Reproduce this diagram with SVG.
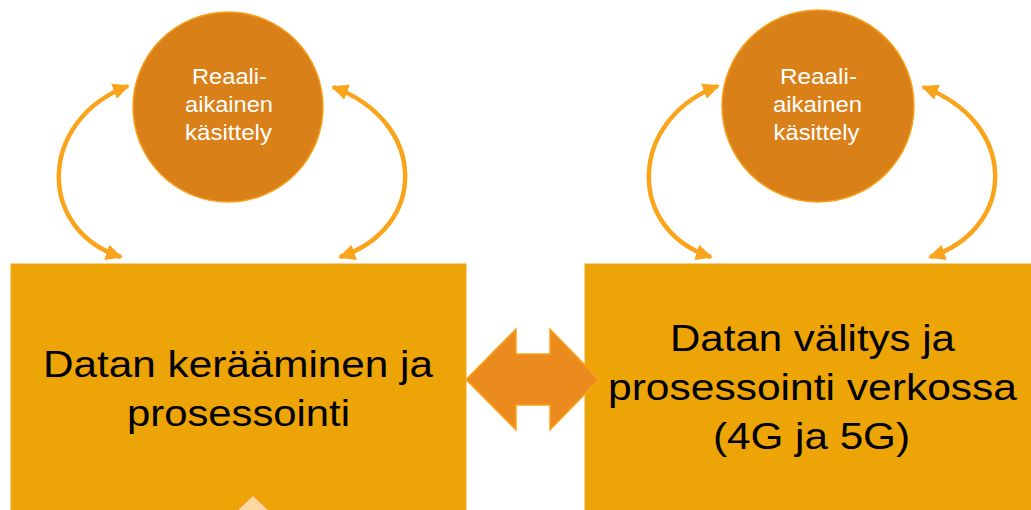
<svg xmlns="http://www.w3.org/2000/svg" width="1031" height="510" viewBox="0 0 1031 510">
  <style>
    .box { fill: #EDA406; stroke: #F2A518; stroke-width: 1; }
    .bubble { fill: #DA8019; stroke: #F7A21E; stroke-width: 1.5; }
    .big { font-family: "Liberation Sans", Arial, sans-serif; font-size: 37px; fill: #000; text-anchor: middle; }
    .small { font-family: "Liberation Sans", Arial, sans-serif; font-size: 22px; fill: #fff; text-anchor: middle; }
    .loop { fill: none; stroke: #F9A41B; stroke-width: 4.5; marker-start: url(#head); marker-end: url(#head); }
    .swap { fill: #EC8B1D; stroke: #F7A51E; stroke-width: 1.5; stroke-linejoin: miter; }
    .peak { fill: #FDD9A2; stroke: #F79A1F; stroke-width: 1.5; }
  </style>
  <defs>
    <marker id="head" markerUnits="userSpaceOnUse" markerWidth="18" markerHeight="18" refX="15" refY="8" orient="auto-start-reverse" viewBox="0 0 18 16">
      <path d="M0,0 L17,8 L0,16 z" fill="#F9A41B"/>
    </marker>
  </defs>

  <rect width="1031" height="510" fill="#fff"/>

  <!-- left block: collection and processing -->
  <g id="collect">
    <rect class="box" x="11" y="264" width="455" height="262"/>
    <text class="big" x="238" y="376.5" textLength="390" lengthAdjust="spacingAndGlyphs">Datan kerääminen ja</text>
    <text class="big" x="238.5" y="426" textLength="223" lengthAdjust="spacingAndGlyphs">prosessointi</text>
  </g>

  <!-- right block: network transfer and processing -->
  <g id="network">
    <rect class="box" x="585" y="264" width="455" height="262"/>
    <text class="big" x="812.5" y="350.5" textLength="285" lengthAdjust="spacingAndGlyphs">Datan välitys ja</text>
    <text class="big" x="812.5" y="400" textLength="409" lengthAdjust="spacingAndGlyphs">prosessointi verkossa</text>
    <text class="big" x="811.5" y="449" textLength="197" lengthAdjust="spacingAndGlyphs">(4G ja 5G)</text>
  </g>

  <!-- real-time bubbles -->
  <g id="realtime-left">
    <circle class="bubble" cx="228" cy="107" r="95"/>
    <text class="small" x="229.5" y="84" textLength="75" lengthAdjust="spacingAndGlyphs">Reaali-</text>
    <text class="small" x="229" y="111.7" textLength="88" lengthAdjust="spacingAndGlyphs">aikainen</text>
    <text class="small" x="228.5" y="140" textLength="87" lengthAdjust="spacingAndGlyphs">käsittely</text>
  </g>
  <g id="realtime-right">
    <circle class="bubble" cx="818" cy="106" r="96"/>
    <text class="small" x="818.5" y="83.5" textLength="77" lengthAdjust="spacingAndGlyphs">Reaali-</text>
    <text class="small" x="817.5" y="111.7" textLength="89" lengthAdjust="spacingAndGlyphs">aikainen</text>
    <text class="small" x="816.5" y="139.5" textLength="86" lengthAdjust="spacingAndGlyphs">käsittely</text>
  </g>

  <!-- connectors -->
  <g id="connectors">
    <path class="loop" d="M128,86 C38,120 36,230 121,257"/>
    <path class="loop" d="M333,87 C428,122 428,228 340,257"/>
    <path class="loop" d="M718,86 C628,120 626,230 711,257"/>
    <path class="loop" d="M923,87 C1018,122 1018,228 930,257"/>
    <polygon class="swap" points="466,379.5 516,329 516,354 550,354 550,329 599,379.5 550,430 550,405 516,405 516,430"/>
    <polygon class="peak" points="253,495 234,513 272,513"/>
  </g>
</svg>
